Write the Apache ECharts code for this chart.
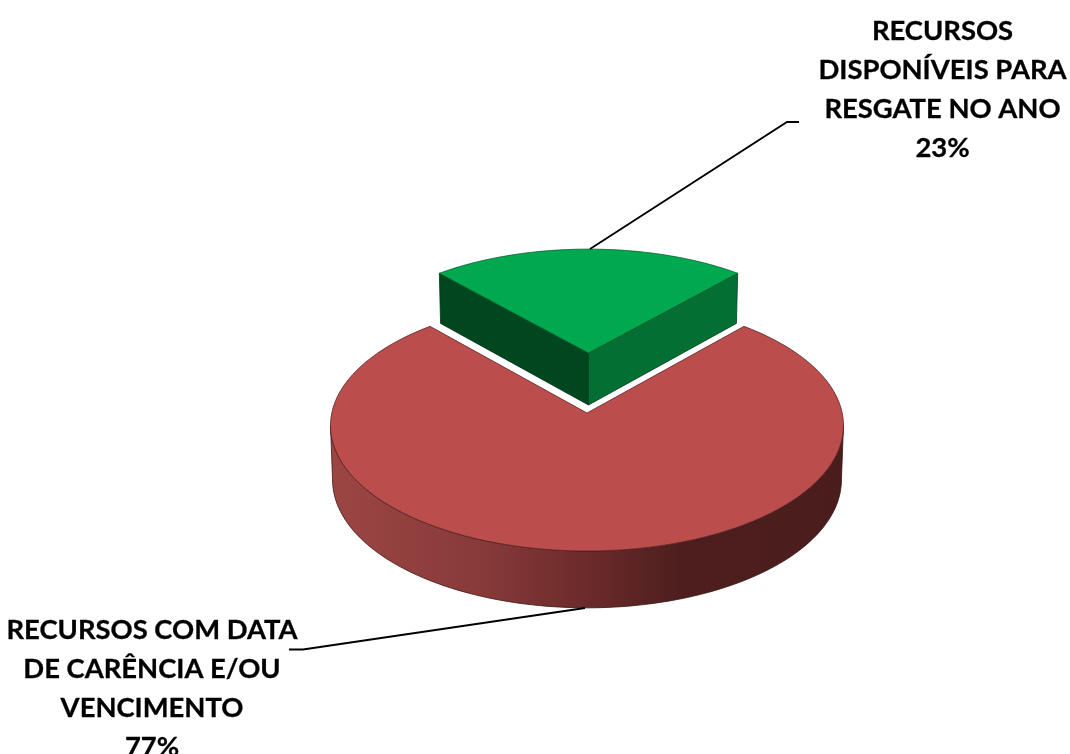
<!DOCTYPE html>
<html><head><meta charset="utf-8">
<style>html,body{margin:0;padding:0;background:#fff}#c{width:1070px;height:754px}</style>
<script src="https://cdn.jsdelivr.net/npm/echarts@6/dist/echarts.min.js"></script>
</head><body><div id="c"></div>
<script>
// data
const categories = ['RECURSOS COM DATA\nDE CARÊNCIA E/OU\nVENCIMENTO', 'RECURSOS\nDISPONÍVEIS PARA\nRESGATE NO ANO'];
const values = [77, 23];

// drawing styles
const topColors = ['#BB4E4D', '#00A94F'];
const wallColors = ['#9E4745', '#00471F', '#046F33'];
const view = {cx: 587, cy: 413, a: 255.2, b: 124.2, k: 0.1, depthK: 0.05};
const slices = [
  {dx: 0, dy: 0, sx: 1, sy: 1, depth: 54, labelX: 152, labelY: 630, leader: [[585, 608], [303, 649.5], [289, 649.5]]},
  {dx: 1.5, dy: -60, sx: 0.95, sy: 0.92, depth: 52, labelX: 942.5, labelY: 31.5, leader: [[590, 249], [787, 122], [799, 122]]}
];
const lineHeight = 39, fontSize = 27.4;
const total = values.reduce((s, v) => s + v, 0);

function project(t, s, extra) {
  const X = Math.cos(t), Y = Math.sin(t);
  const d = 1 - view.k * Y;
  const depth = extra ? s.depth / (1 - view.depthK * Y) : 0;
  const shrink = extra ? 0.992 : 1;
  return [view.cx + s.dx + shrink * s.sx * view.a * X / d, view.cy + s.dy + s.sy * view.b * Y / d + depth];
}
function arc(a0, a1, s, extra) {
  const n = 120, pts = [];
  for (let i = 0; i <= n; i++) pts.push(project(a0 + (a1 - a0) * i / n, s, extra));
  return pts;
}
function tip(s, extra) {
  return [view.cx + s.dx, view.cy + s.dy + (extra ? s.depth : 0)];
}
function poly(points, fill, stroke) {
  return {type: 'polygon', shape: {points}, style: {fill, stroke, lineWidth: 0.8, lineJoin: 'round'}};
}

function renderItem(params, api) {
  const i = params.dataIndex;
  const s = slices[i];
  const v = api.value(0);
  const sweep = v / total * Math.PI * 2;
  const children = [];
  if (i === 0) {
    const half = sweep / 2, mid = Math.PI / 2;
    const a0 = mid - half, a1 = mid + half;
    const sil = Math.asin(view.k);
    const wallTop = arc(sil, Math.PI - sil, s, false);
    const wallBot = arc(Math.PI - sil, sil, s, true);
    children.push(poly(wallTop.concat(wallBot), new echarts.graphic.LinearGradient(0, 0, 1, 0, [
      {offset: 0, color: '#9C4644'}, {offset: 0.3, color: '#863A39'}, {offset: 0.5, color: '#6C2A2A'},
      {offset: 0.68, color: '#4E1E1E'}, {offset: 1, color: '#4A1D1C'}
    ]), '#3a1513'));
    children.push(poly([tip(s, false)].concat(arc(a0, a1, s, false)), topColors[0], '#5a2423'));
  } else {
    const mid = -Math.PI / 2, half = sweep / 2;
    const a0 = mid - half, a1 = mid + half;
    const pL = project(a0, s, false), pR = project(a1, s, false);
    const bL = project(a0, s, true), bR = project(a1, s, true);
    children.push(poly([tip(s, false), pL, bL, tip(s, true)], wallColors[1], '#00351a'));
    children.push(poly([tip(s, false), pR, bR, tip(s, true)], wallColors[2], '#00401f'));
    children.push(poly([tip(s, false)].concat(arc(a0, a1, s, false)), topColors[1], '#00602c'));
  }
  children.push({type: 'polyline', shape: {points: s.leader},
    style: {fill: null, stroke: '#000', lineWidth: 1.8}, z2: 5});
  const pct = Math.round(v / total * 100) + '%';
  categories[i].split('\n').concat(pct).forEach((line, n) => {
    children.push({type: 'text', z2: 6, style: {
      x: s.labelX, y: s.labelY + n * lineHeight, text: line,
      font: 'bold ' + fontSize + 'px Lato, Carlito, sans-serif',
      fill: '#000', stroke: '#000', lineWidth: 0.3, align: 'center', verticalAlign: 'middle'
    }});
  });
  return {type: 'group', children};
}

const chart = echarts.init(document.getElementById('c'), null, {renderer: 'canvas'});
chart.setOption({
  animation: false,
  backgroundColor: '#fff',
  series: [{
    type: 'custom',
    coordinateSystem: 'none',
    renderItem,
    silent: true,
    data: values.map((v, i) => ({name: categories[i], value: [v]}))
  }]
});
</script></body></html>
